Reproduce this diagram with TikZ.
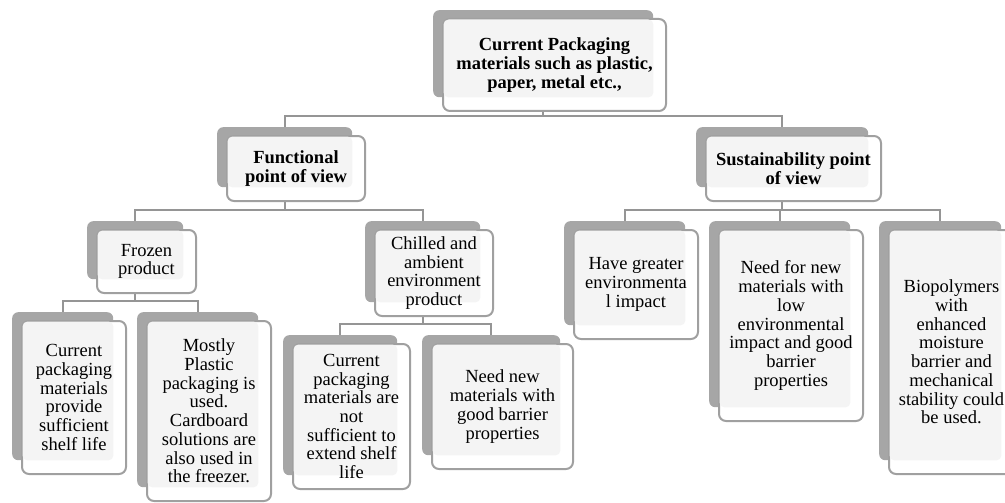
\documentclass[tikz,border=0pt]{standalone}
\usepackage{fontspec}
\setmainfont{Liberation Serif}
\usetikzlibrary{calc,backgrounds}
\definecolor{backgr}{HTML}{A6A6A6}
\definecolor{edgegr}{HTML}{A0A0A0}
\definecolor{lightgr}{HTML}{F4F4F4}
\definecolor{linkgr}{HTML}{959595}

\begin{document}
\begin{tikzpicture}[x=1pt,y=-1pt,line join=round,
  backbox/.style={fill=backgr,rounded corners=6pt,inner sep=0pt,anchor=north west},
  frontbox/.style={fill=white,draw=edgegr,line width=2pt,rounded corners=7pt,inner sep=0pt,anchor=north west},
  lightbox/.style={fill=lightgr,rounded corners=5pt},
  boxtext/.style={align=center,inner sep=0pt,font=\fontsize{18.5}{18.7}\selectfont#1},
  link/.style={draw=linkgr,line width=2pt}]
  \useasboundingbox (0,0) rectangle (1005,503);
  \foreach \nm/\bx/\by/\bw/\bh/\fnt/\txt in {
      root/433/10/220/87/\bfseries/{Current Packaging\\materials such as plastic,\\paper, metal etc.,},
      func/217/127/135/60/\bfseries/{Functional\\point of view},
      sust/696/127/172/60/\bfseries/{Sustainability point\\of view},
      frozen/87/221/96/58/\mdseries/{Frozen\\product},
      chilled/365/221/115/81/\mdseries/{Chilled and\\ambient\\environment\\product},
      fz1/12/312/101/148/\mdseries/{Current\\packaging\\materials\\provide\\sufficient\\shelf life},
      fz2/137/312/121/175/\mdseries/{Mostly\\Plastic\\packaging is\\used.\\Cardboard\\solutions are\\also used in\\the freezer.},
      ch1/283/335/114/140/\mdseries/{Current\\packaging\\materials are\\not\\sufficient to\\extend shelf\\life},
      ch2/422/335/138/120/\mdseries/{Need new\\materials with\\good barrier\\properties},
      su1/564/221/121/104/\mdseries/{Have greater\\environmenta\\l impact},
      su2/709/221/141/186/\mdseries/{Need for new\\materials with\\low\\environmental\\impact and good\\barrier\\properties},
      su3/879/221/122/239/\mdseries/{Biopolymers\\with\\enhanced\\moisture\\barrier and\\mechanical\\stability could\\be used.}} {
    \node[backbox,minimum width={\bw},minimum height={\bh}] (\nm-b) at (\bx,\by) {};
    \node[frontbox,minimum width={\bw+3},minimum height={\bh+5}] (\nm-f) at ($(\nm-b.north west)+(9,8)$) {};
    \fill[lightbox] ($(\nm-f.north west)+(1.5,1.5)$) rectangle (\nm-b.south east);
    \node[boxtext=\fnt] (\nm) at (\nm-f.center) {\txt};
  }
  \begin{scope}[on background layer]
    \foreach \pa/\ch in {root/func,root/sust,func/frozen,func/chilled,frozen/fz1,frozen/fz2,
        chilled/ch1,chilled/ch2,sust/su1,sust/su2,sust/su3}
      \draw[link] (\pa-b.south) |- ([yshift=11pt]\ch-b.north) -- (\ch-b.north);
  \end{scope}
\end{tikzpicture}
\end{document}
